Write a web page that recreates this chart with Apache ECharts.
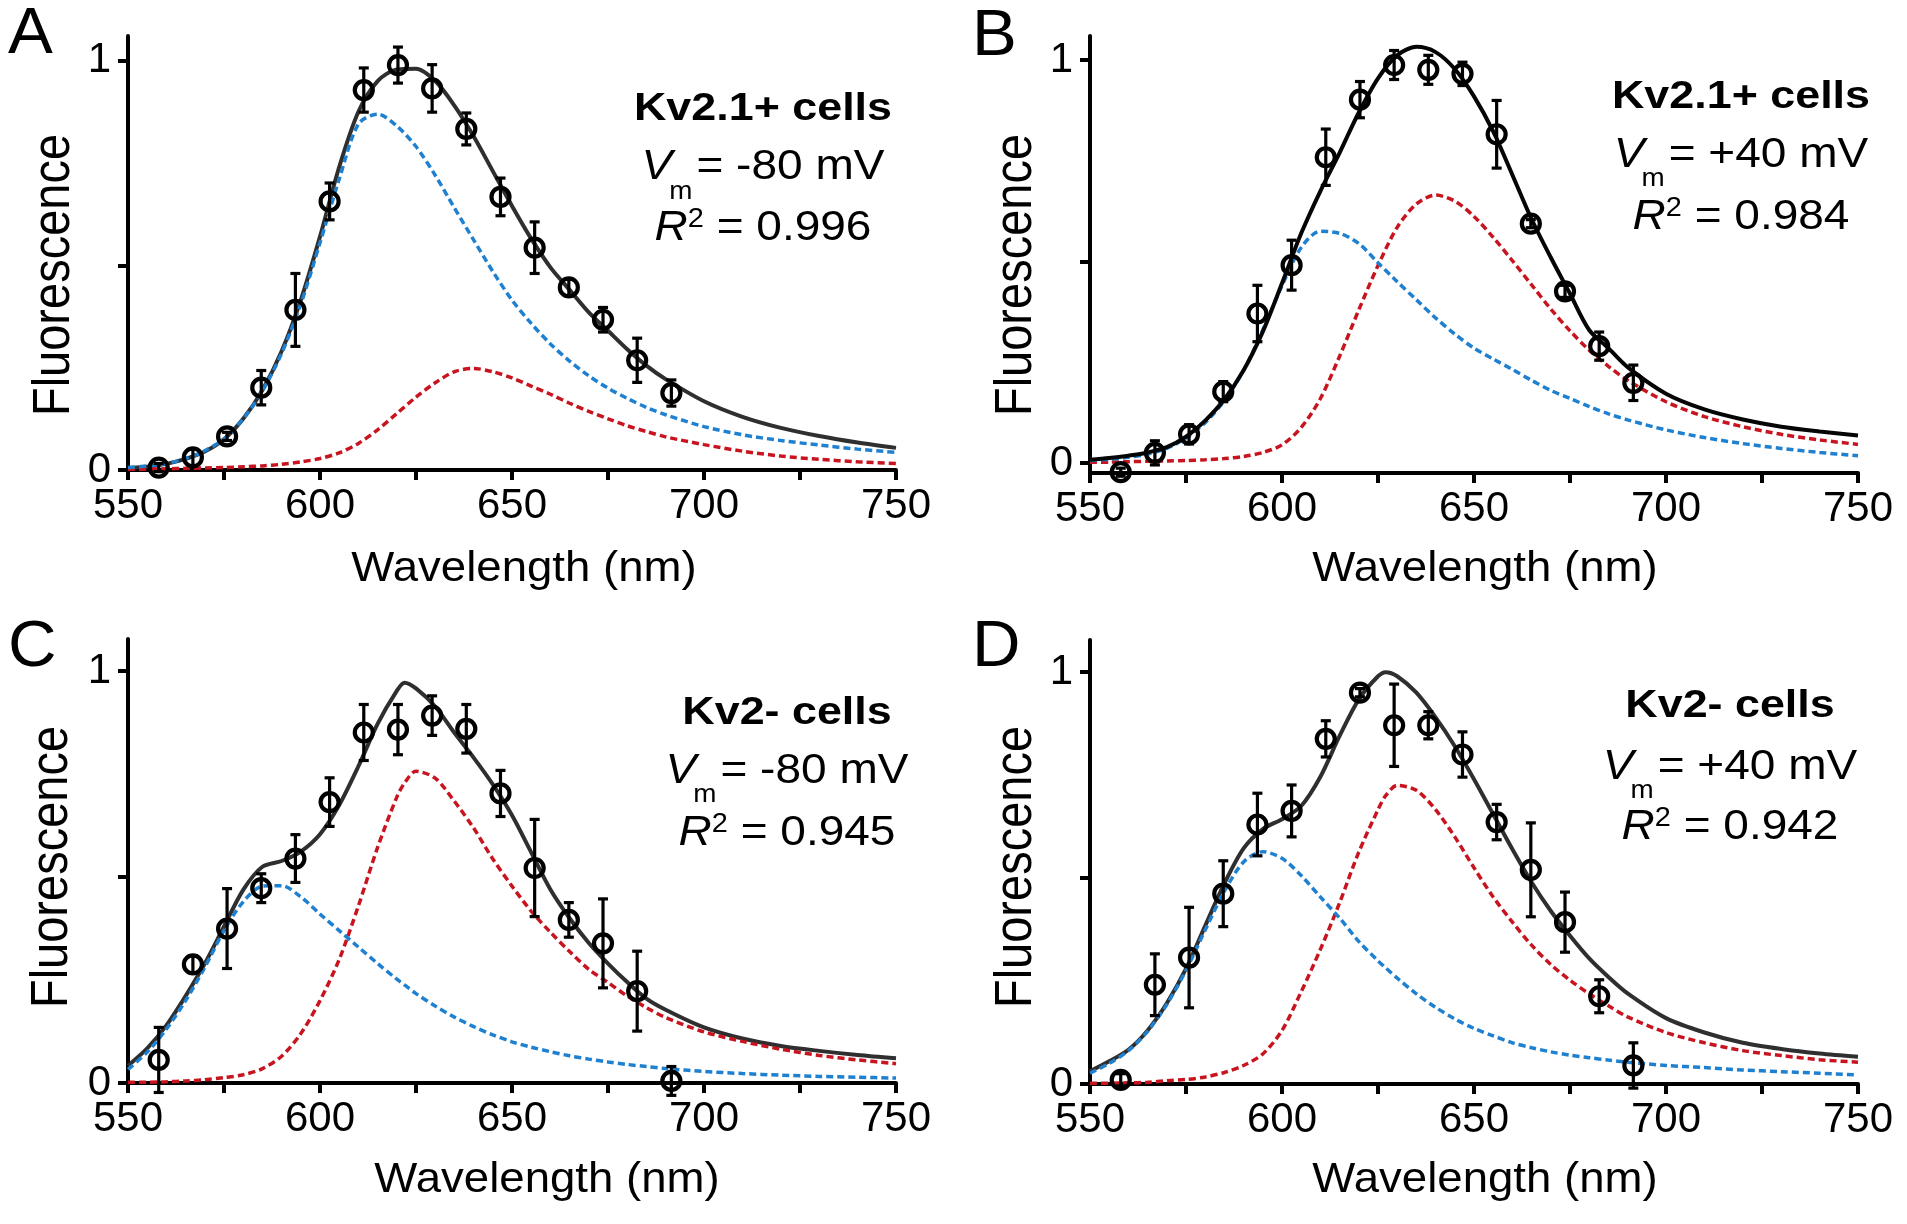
<!DOCTYPE html>
<html><head><meta charset="utf-8">
<script src="https://cdn.jsdelivr.net/npm/echarts@6/dist/echarts.min.js"></script>
<style>html,body{margin:0;padding:0;background:#fff}#c{width:1907px;height:1224px}</style>
</head><body><div id="c"></div>
<script>
// ---------- data ----------
const wavelengths = [558, 566.9, 575.8, 584.7, 593.6, 602.5, 611.4, 620.3, 629.2, 638.1, 647, 655.9, 664.8, 673.7, 682.6, 691.5];

const meanA = [0.006, 0.031, 0.082, 0.201, 0.391, 0.656, 0.928, 0.989, 0.932, 0.833, 0.667, 0.543, 0.446, 0.367, 0.268, 0.188];
const errA  = [0.010, 0.020, 0.010, 0.042, 0.089, 0.045, 0.054, 0.044, 0.058, 0.039, 0.046, 0.063, 0.020, 0.030, 0.054, 0.032];
const meanB = [-0.023, 0.025, 0.071, 0.177, 0.371, 0.491, 0.759, 0.902, 0.988, 0.976, 0.966, 0.816, 0.594, 0.426, 0.290, 0.199];
const errB  = [0.010, 0.030, 0.024, 0.025, 0.070, 0.062, 0.070, 0.045, 0.036, 0.036, 0.029, 0.084, 0.010, 0.015, 0.035, 0.044];
const meanC = [0.056, 0.288, 0.375, 0.473, 0.545, 0.682, 0.851, 0.858, 0.892, 0.860, 0.703, 0.522, 0.396, 0.339, 0.223, 0.005];
const errC  = [0.079, 0.020, 0.097, 0.035, 0.058, 0.059, 0.068, 0.061, 0.048, 0.059, 0.056, 0.118, 0.042, 0.108, 0.097, 0.035];
const meanD = [0.010, 0.241, 0.307, 0.462, 0.630, 0.663, 0.838, 0.950, 0.871, 0.871, 0.800, 0.636, 0.520, 0.393, 0.213, 0.045];
const errD  = [0.015, 0.075, 0.122, 0.080, 0.076, 0.063, 0.044, 0.010, 0.100, 0.033, 0.055, 0.043, 0.114, 0.073, 0.040, 0.055];

// fitted curves at these wavelengths
const fitX  = [550,555,560,565,570,575,580,585,590,595,600,605,610,615,620,625,630,635,640,645,650,655,660,665,670,675,680,685,690,700,710,720,730,740,750];
const fitXC = [550,555,560,565,570,575,580,585,590,595,600,605,610,615,620,622,625,630,635,640,645,650,655,660,665,670,675,680,685,690,700,710,720,730,740,750];
const fitXD = [550,555,560,565,570,575,580,585,590,595,600,605,610,615,620,625,627,630,635,640,645,650,655,660,665,670,675,680,685,690,700,710,720,730,740,750];

const totalA = [.005,.008,.015,.027,.045,.075,.125,.195,.29,.415,.57,.74,.875,.95,.978,.98,.95,.89,.815,.73,.645,.565,.495,.44,.385,.34,.295,.255,.222,.168,.13,.103,.083,.067,.054];
const blueA  = [.006,.01,.016,.028,.047,.076,.125,.193,.285,.405,.555,.71,.845,.869,.84,.79,.72,.64,.562,.485,.415,.358,.308,.266,.23,.2,.175,.153,.135,.106,.086,.072,.061,.051,.043];
const redA   = [.002,.002,.003,.004,.005,.006,.008,.01,.014,.02,.028,.042,.065,.098,.138,.178,.213,.24,.248,.24,.225,.205,.185,.163,.143,.125,.108,.094,.081,.062,.046,.034,.026,.02,.016];

const totalB = [.008,.012,.018,.026,.039,.065,.105,.158,.23,.326,.446,.57,.675,.77,.87,.955,1.012,1.033,1.02,.978,.91,.823,.715,.605,.51,.42,.33,.285,.238,.172,.133,.108,.09,.078,.068];
const blueB  = [.006,.009,.014,.022,.036,.062,.1,.155,.23,.33,.44,.535,.575,.57,.545,.497,.45,.405,.36,.32,.285,.258,.232,.205,.18,.16,.14,.122,.107,.082,.063,.048,.036,.026,.018];
const redB   = [.002,.002,.003,.004,.005,.006,.008,.011,.016,.026,.045,.088,.16,.265,.38,.49,.585,.643,.665,.65,.612,.56,.502,.442,.382,.328,.28,.24,.205,.152,.115,.09,.071,.057,.046];

const totalC = [.042,.084,.14,.211,.29,.38,.469,.525,.539,.562,.604,.675,.769,.872,.952,.972,.958,.914,.85,.79,.725,.65,.56,.47,.4,.34,.29,.245,.205,.178,.135,.108,.09,.078,.068,.06];
const blueC  = [.033,.075,.131,.2,.281,.37,.44,.478,.479,.452,.41,.37,.33,.29,.252,.238,.217,.187,.16,.137,.117,.1,.087,.076,.066,.058,.051,.045,.04,.035,.028,.023,.019,.016,.014,.012];
const redC   = [.002,.002,.003,.005,.008,.013,.02,.035,.065,.12,.2,.3,.43,.572,.694,.728,.757,.74,.684,.619,.544,.478,.417,.366,.319,.276,.244,.211,.183,.159,.124,.101,.082,.067,.056,.047];

const totalD = [.031,.055,.083,.13,.196,.28,.384,.487,.572,.619,.643,.675,.746,.845,.934,.99,1.0,.99,.95,.89,.82,.74,.655,.57,.49,.42,.36,.305,.26,.22,.16,.125,.1,.085,.074,.066];
const blueD  = [.026,.05,.081,.128,.193,.276,.374,.468,.539,.564,.548,.506,.454,.403,.346,.299,.282,.257,.219,.186,.158,.135,.117,.1,.088,.078,.07,.064,.058,.053,.045,.04,.034,.03,.026,.022];
const redD   = [.002,.002,.003,.004,.008,.011,.017,.028,.045,.073,.13,.224,.327,.44,.563,.666,.7,.725,.713,.666,.6,.525,.454,.393,.337,.29,.252,.219,.19,.163,.125,.1,.081,.069,.059,.053];

const xLabelValues = [550, 600, 650, 700, 750];
const xTickValues  = [550, 575, 600, 625, 650, 675, 700, 725, 750];
const yLabelValues = [0, 1];
const yTickValues  = [0, 0.5, 1];

const panelLetters = ['A', 'B', 'C', 'D'];
const cellTitles   = ['Kv2.1+ cells', 'Kv2.1+ cells', 'Kv2- cells', 'Kv2- cells'];
const vmTexts      = ['= -80 mV', '= +40 mV', '= -80 mV', '= +40 mV'];
const r2Texts      = [' = 0.996', ' = 0.984', ' = 0.945', ' = 0.942'];

// ---------- layout ----------
const FONT = '"Liberation Sans", Arial, Helvetica, sans-serif';
const BLUE = '#1f80d0', RED = '#c8141e';
const panels = [
  {grid:{left:128, top:36, width:768, height:434}, ymin:0, ymax:1.06, mean:meanA, err:errA, fx:fitX, total:totalA, blue:blueA, red:redA, black:'#2f2f2f', dashedTop:true,
   letter:[8, 35], yname:[55, 275], xname:[524, 569], ann:[763, 110, 167.5, 228]},
  {grid:{left:1090, top:36, width:768, height:437}, ymin:-0.025, ymax:1.06, mean:meanB, err:errB, fx:fitX, total:totalB, blue:blueB, red:redB, black:'#050505', dashedTop:false,
   letter:[972, 37], yname:[1017, 275], xname:[1485, 569], ann:[1741, 98, 155, 217]},
  {grid:{left:128, top:639, width:768, height:444}, ymin:0, ymax:1.078, mean:meanC, err:errC, fx:fitXC, total:totalC, blue:blueC, red:redC, black:'#2f2f2f', dashedTop:true,
   letter:[8, 648], yname:[53, 867], xname:[547, 1180], ann:[787, 714, 771, 833]},
  {grid:{left:1090, top:640, width:768, height:444}, ymin:0, ymax:1.078, mean:meanD, err:errD, fx:fitXD, total:totalD, blue:blueD, red:redD, black:'#2f2f2f', dashedTop:true,
   letter:[972, 648], yname:[1017, 867], xname:[1485, 1180], ann:[1730, 707, 767, 827]}
];

const ctx = document.createElement('canvas').getContext('2d');
function measure(t, size, style, weight) {
  ctx.font = `${style||'normal'} ${weight||'normal'} ${size}px ${FONT}`;
  return ctx.measureText(t).width;
}
function textEl(t, x, y, size, opts) {
  opts = opts || {};
  return {type:'text', x:x, y:y, scaleX:opts.sx||1, scaleY:opts.sy||1, rotation:opts.rot||0, silent:true,
    style:{text:t, fontSize:size, fontFamily:FONT, fontStyle:opts.style||'normal', fontWeight:opts.weight||'normal',
      fill:'#000', align:opts.align||'left', verticalAlign:'middle'}};
}
function lineOfParts(cx, cy, parts) {
  let total = 0;
  parts.forEach(p => { p.w = measure(p.t, p.size, p.style, p.weight) * (p.sx||1); total += (p.dx||0) + p.w; });
  let x = cx - total/2;
  const els = [];
  parts.forEach(p => { x += (p.dx||0); els.push(textEl(p.t, x, cy + (p.dy||0), p.size, p)); x += p.w; });
  return els;
}

const grids = [], xAxes = [], yAxes = [], series = [], graphics = [];
const axisLineStyle = {color:'#000', width:4};
panels.forEach((p, i) => {
  grids.push(Object.assign({containLabel:false}, p.grid));
  xAxes.push({gridIndex:i, type:'value', min:550, max:750, interval:25,
    axisLine:{show:true, onZero:false, lineStyle:axisLineStyle},
    axisTick:{show:true, inside:false, length:10, customValues:xTickValues, lineStyle:{color:'#000', width:4}},
    axisLabel:{show:true, customValues:xLabelValues, fontSize:42, fontFamily:FONT, color:'#000', margin:15,
      formatter:v => xLabelValues.indexOf(v) >= 0 ? String(v) : ''},
    splitLine:{show:false}});
  yAxes.push({gridIndex:i, type:'value', min:p.ymin, max:p.ymax,
    axisLine:{show:true, onZero:false, lineStyle:axisLineStyle},
    axisTick:{show:true, inside:false, length:10, customValues:yTickValues, lineStyle:{color:'#000', width:4}},
    axisLabel:{show:true, customValues:yLabelValues, fontSize:42, fontFamily:FONT, color:'#000', margin:17,
      formatter:v => (v === 0 ? '0' : (v === 1 ? '1' : ''))},
    splitLine:{show:false}});

  const zD = p.dashedTop ? 4 : 2, zB = 3;
  const pairs = arr => p.fx.map((x, k) => [x, arr[k]]);
  series.push({type:'line', xAxisIndex:i, yAxisIndex:i, data:pairs(p.red), smooth:0.3, showSymbol:false, silent:true, z:zD,
    lineStyle:{color:RED, width:3.5, type:[7,4]}});
  series.push({type:'line', xAxisIndex:i, yAxisIndex:i, data:pairs(p.blue), smooth:0.3, showSymbol:false, silent:true, z:zD,
    lineStyle:{color:BLUE, width:3.5, type:[7,4]}});
  series.push({type:'line', xAxisIndex:i, yAxisIndex:i, data:pairs(p.total), smooth:0.3, showSymbol:false, silent:true, z:zB,
    lineStyle:{color:p.black, width:4}});
  series.push({type:'custom', xAxisIndex:i, yAxisIndex:i, z:6, silent:true,
    data: wavelengths.map((w, k) => [w, p.mean[k] - p.err[k], p.mean[k] + p.err[k]]),
    renderItem:(params, api) => {
      const x = api.value(0), lo = api.coord([x, api.value(1)]), hi = api.coord([x, api.value(2)]);
      const cw = 5, st = {stroke:'#000', lineWidth:3.2};
      return {type:'group', children:[
        {type:'line', shape:{x1:lo[0], y1:lo[1], x2:hi[0], y2:hi[1]}, style:st},
        {type:'line', shape:{x1:hi[0]-cw, y1:hi[1], x2:hi[0]+cw, y2:hi[1]}, style:st},
        {type:'line', shape:{x1:lo[0]-cw, y1:lo[1], x2:lo[0]+cw, y2:lo[1]}, style:st}
      ]};
    }});
  series.push({type:'scatter', xAxisIndex:i, yAxisIndex:i, z:7, silent:true, symbol:'circle', symbolSize:18,
    data: wavelengths.map((w, k) => [w, p.mean[k]]),
    itemStyle:{color:'rgba(255,255,255,0)', borderColor:'#000', borderWidth:4.2, opacity:1}});

  // texts
  graphics.push(textEl(panelLetters[i], p.letter[0], p.letter[1], 64, {sx:1.05}));
  graphics.push(textEl('Fluorescence', p.yname[0], p.yname[1], 47, {rot:Math.PI/2, align:'center', sy:1.1}));
  graphics.push(textEl('Wavelength (nm)', p.xname[0], p.xname[1], 42, {align:'center', sx:1.085}));
  const [cx, y1, y2, y3] = p.ann;
  lineOfParts(cx, y1, [{t:cellTitles[i], size:38, weight:'bold', sx:1.18}]).forEach(e => graphics.push(e));
  lineOfParts(cx, y2, [{t:'V', size:43, style:'italic', sx:1.07}, {t:'m', size:26, sx:1.07, dx:-3, dy:24}, {t:vmTexts[i], size:43, sx:1.07, dx:4}]).forEach(e => graphics.push(e));
  lineOfParts(cx, y3, [{t:'R', size:43, style:'italic', sx:1.07}, {t:'2', size:27, sx:1.07, dy:-8}, {t:r2Texts[i], size:43, sx:1.07}]).forEach(e => graphics.push(e));
});

const chart = echarts.init(document.getElementById('c'), null, {renderer:'canvas'});
chart.setOption({
  animation:false, backgroundColor:'#fff',
  grid:grids, xAxis:xAxes, yAxis:yAxes, series:series,
  graphic:{elements:graphics}
});
</script></body></html>
